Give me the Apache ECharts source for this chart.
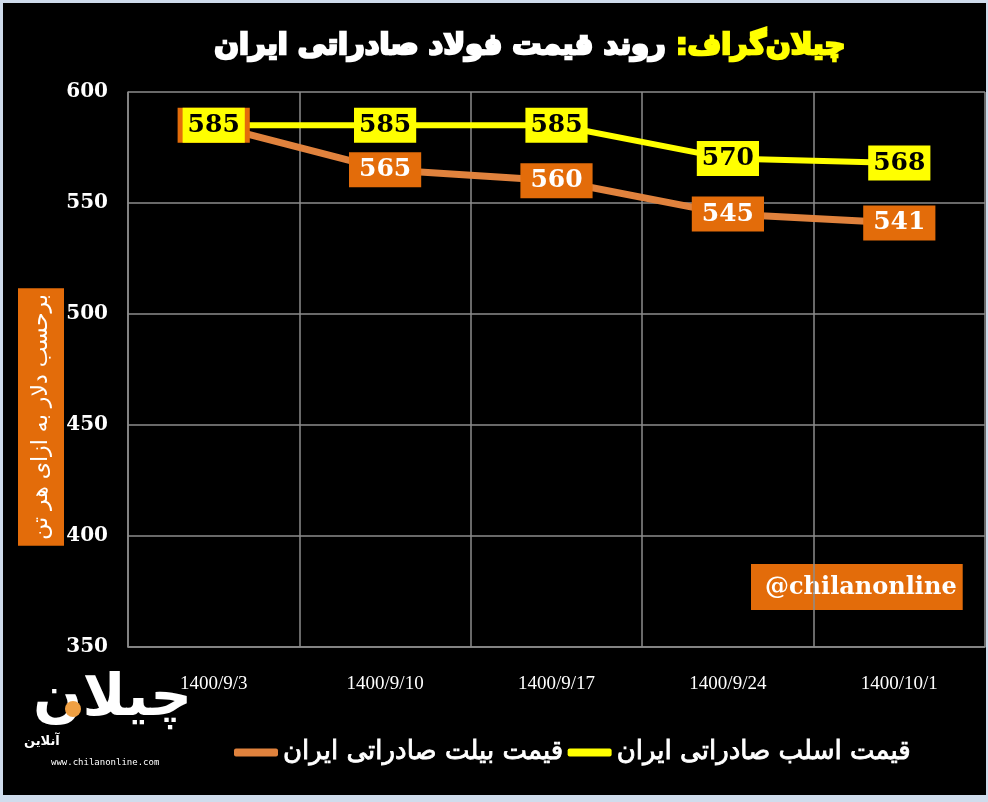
<!DOCTYPE html>
<html>
<head>
<meta charset="utf-8">
<script src="https://cdn.jsdelivr.net/npm/echarts@6/dist/echarts.min.js"></script>
<style>
  html, body { margin: 0; padding: 0; background: #cfdcec; }
  #chart { position: absolute; left: 3px; top: 3px; width: 983px; height: 792px; background: #000; }
</style>
</head>
<body>
<div id="chart"></div>
<script>
// روند قیمت فولاد صادراتی ایران
var dates = ['1400/9/3', '1400/9/10', '1400/9/17', '1400/9/24', '1400/10/1'];
var billetName = 'قیمت بیلت صادراتی ایران';
var slabName = 'قیمت اسلب صادراتی ایران';
var billet = [585, 565, 560, 545, 541];   // نارنجی
var slab = [585, 585, 585, 570, 568];     // زرد

var chart = echarts.init(document.getElementById('chart'));

var serif = '"DejaVu Serif", "Liberation Serif", serif';
var persian = '"DejaVu Sans", "Noto Sans", sans-serif';

var option = {
    backgroundColor: '#000',
    animation: false,
    grid: { left: 125, right: 1, top: 89, bottom: 148 },
    legend: {
        data: [billetName, slabName],
        left: 226,
        top: 731,
        icon: 'roundRect',
        itemWidth: 44,
        itemHeight: 8,
        itemGap: 4,
        textStyle: {
            color: '#fff', fontSize: 26, fontFamily: persian,
            textBorderColor: '#fff', textBorderWidth: 0.8
        }
    },
    xAxis: {
        type: 'category',
        data: dates,
        boundaryGap: true,
        axisLine: { lineStyle: { color: '#8c8c8c', width: 1.5 } },
        axisTick: { show: false },
        splitLine: { show: true, interval: 0, lineStyle: { color: '#8c8c8c', width: 1.5 } },
        axisLabel: { color: '#fff', fontSize: 19, fontFamily: '"Liberation Serif", serif', margin: 28, interval: 0 }
    },
    yAxis: {
        type: 'value',
        min: 350,
        max: 600,
        interval: 50,
        axisLine: { show: true, lineStyle: { color: '#8c8c8c', width: 1.5 } },
        axisTick: { show: false },
        splitLine: { lineStyle: { color: '#8c8c8c', width: 1.5 } },
        axisLabel: { color: '#fff', fontSize: 20, fontWeight: 'bold', fontFamily: serif, margin: 20 }
    },
    series: [
        {
            name: billetName,
            type: 'line',
            data: billet,
            symbol: 'circle',
            symbolSize: 2,
            color: '#e0823d',
            lineStyle: { width: 7, color: '#e0823d' },
            label: {
                show: true,
                position: 'inside',
                color: '#fff',
                fontSize: 25,
                fontWeight: 'bold',
                fontFamily: serif,
                backgroundColor: '#e36c0a',
                padding: [6, 10, 4, 10]
            }
        },
        {
            name: slabName,
            type: 'line',
            data: slab,
            symbol: 'circle',
            symbolSize: 2,
            color: '#ffff00',
            lineStyle: { width: 6, color: '#ffff00' },
            label: {
                show: true,
                position: 'inside',
                color: '#000',
                fontSize: 25,
                fontWeight: 'bold',
                fontFamily: serif,
                backgroundColor: '#ffff00',
                padding: [6, 5, 4, 5]
            }
        }
    ],
    graphic: [
        {
            type: 'text',
            left: 210,
            top: 28,
            style: {
                text: '{w|روند قیمت فولاد صادراتی ایران}{y| :چیلان‌گراف}',
                rich: {
                    w: { fill: '#fff', fontSize: 29, fontWeight: 'bold', fontFamily: persian, stroke: '#fff', lineWidth: 2.4 },
                    y: { fill: '#ffff00', fontSize: 29, fontWeight: 'bold', fontFamily: persian, stroke: '#ffff00', lineWidth: 2.4 }
                }
            }
        },
        {
            type: 'text',
            x: 38,
            y: 414,
            rotation: Math.PI / 2,
            style: {
                text: 'برحسب دلار به ازای هر تن',
                fill: '#fff',
                fontSize: 22,
                fontFamily: persian,
                align: 'center',
                verticalAlign: 'middle',
                backgroundColor: '#e36c0a',
                padding: [13, 6, 11, 6]
            }
        },
        {
            type: 'text',
            left: 748,
            top: 561,
            style: {
                text: '@chilanonline',
                fill: '#fff',
                fontSize: 24,
                fontWeight: 'bold',
                fontFamily: serif,
                backgroundColor: '#e36c0a',
                padding: [12, 6, 10, 14]
            }
        },
        // لوگو
        {
            type: 'text',
            left: 30,
            top: 668,
            style: { text: 'چیلان', fill: '#fff', fontSize: 58, fontWeight: 'bold', fontFamily: persian }
        },
        {
            type: 'circle',
            shape: { cx: 70, cy: 706, r: 8 },
            style: { fill: '#f0a043' }
        },
        {
            type: 'text',
            left: 21,
            top: 732,
            style: { text: 'آنلاین', fill: '#fff', fontSize: 13, fontWeight: 'bold', fontFamily: persian }
        },
        {
            type: 'text',
            left: 48,
            top: 755,
            style: { text: 'www.chilanonline.com', fill: '#fff', fontSize: 9, fontFamily: '"DejaVu Sans Mono", monospace' }
        }
    ]
};

chart.setOption(option);
</script>
</body>
</html>
